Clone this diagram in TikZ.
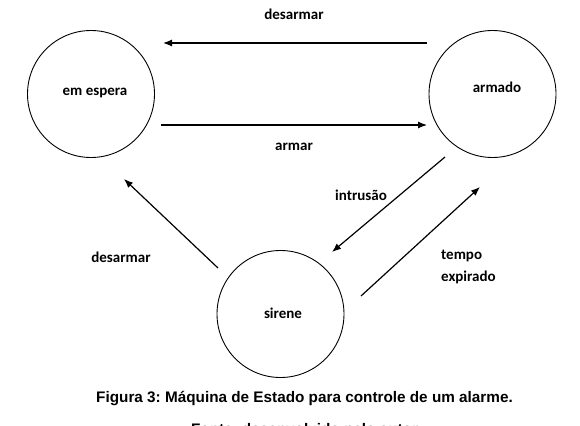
\documentclass[tikz,border=0pt]{standalone}
\usepackage{fontspec}
\setmainfont{Carlito}
\newfontfamily\capfont{Liberation Sans}
\usetikzlibrary{arrows.meta}
\frenchspacing
\tikzset{
  state/.style={circle, draw, line width=0.9pt, minimum size=127pt, inner sep=0pt},
  lbl/.style={font=\fontsize{15}{22}\selectfont\bfseries, inner sep=0pt},
  trans/.style={line width=1.2pt, -{Latex[length=9pt,width=7pt]}},
  capt/.style={font=\capfont\fontsize{15.3}{18}\selectfont\bfseries, inner sep=0pt, anchor=base}
}
\begin{document}
\begin{tikzpicture}[x=1pt,y=-1pt]
\useasboundingbox (0,0) rectangle (580,425);
\fill[white] (0,0) rectangle (580,425);
\begin{scope}
\clip (0,0) rectangle (580,425);
% states
\node[state] (esp) at (91,94) {};
\node[state] (arm) at (492.5,94) {};
\node[state] (sir) at (280.5,314) {};
\node[lbl] (tesp) at (95,93) {em espera};
\node[lbl] (tarm) at (497,87) {armado};
\node[lbl] (tsir) at (283,313) {sirene};
% free ends
\coordinate (d1s) at (427,43);
\coordinate (d1e) at (163,43);
\coordinate (a1s) at (161,125);
\coordinate (a1e) at (427,125);
\coordinate (i1s) at (445,157);
\coordinate (i1e) at (332,252);
\coordinate (t1s) at (361,296);
\coordinate (t1e) at (480,187);
\coordinate (d2s) at (218,268);
\coordinate (d2e) at (124,179);
% transitions
\draw[trans] (d1s) -- (d1e);
\draw[trans] (a1s) -- (a1e);
\draw[trans] (i1s) -- (i1e);
\draw[trans] (t1s) -- (t1e);
\draw[trans] (d2s) -- (d2e);
% labels
\node[lbl] (ld1) at (294,14) {desarmar};
\node[lbl] (la1) at (294,147) {armar};
\node[lbl] (li1) at (361,195) {intrusão};
\node[lbl, align=left, anchor=west] (lt1) at (441,267) {tempo\\expirado};
\node[lbl] (ld2) at (121,257) {desarmar};
% caption
\node[capt] (cap1) at (304.5,402) {Figura 3: Máquina de Estado para controle de um alarme.};
\node[capt] (cap2) at (304.5,434.5) {Fonte: desenvolvido pelo autor};
\end{scope}
\end{tikzpicture}
\end{document}
